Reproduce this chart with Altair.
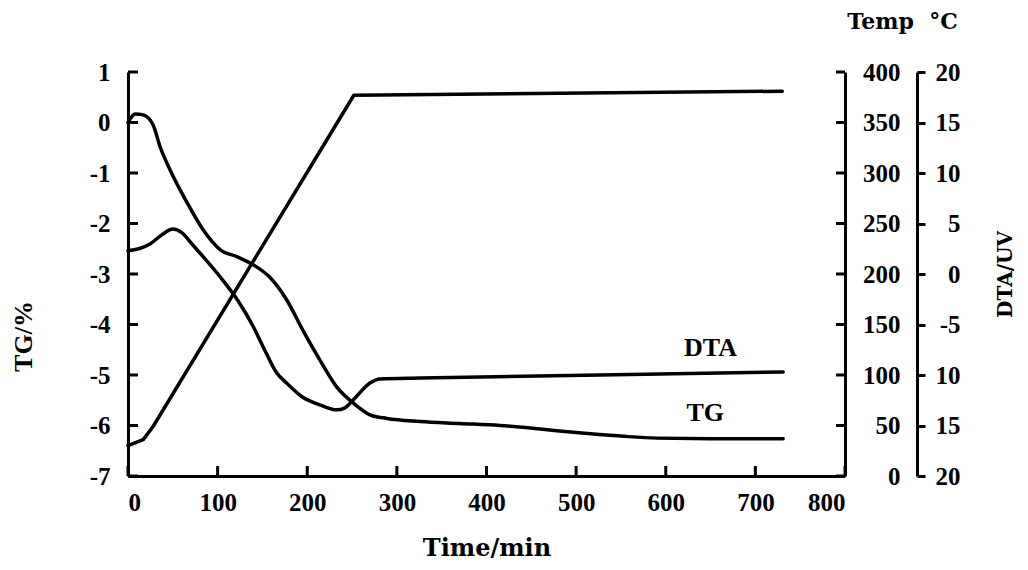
import altair as alt
import pandas as pd

# ---------------- data ----------------
tg_time = [0, 8, 17, 28, 36, 47, 66, 84, 103, 122, 140, 158, 177, 195, 214, 233,
           251, 270, 289, 326, 370, 415, 460, 500, 550, 590, 650, 731]
tg_val = [0.0, 0.17, 0.15, -0.05, -0.49, -0.94, -1.59, -2.13, -2.52, -2.66, -2.82,
          -3.06, -3.51, -4.11, -4.70, -5.24, -5.55, -5.79, -5.86, -5.92, -5.96,
          -6.0, -6.07, -6.14, -6.21, -6.25, -6.26, -6.26]

dta_time = [0, 12, 25, 38, 50, 60, 72, 84, 103, 122, 140, 151, 166, 177, 195, 214,
            233, 242, 251, 270, 281, 326, 527, 731]
dta_val = [2.3, 2.5, 3.0, 3.9, 4.45, 4.1, 2.9, 1.7, -0.3, -2.55, -5.25, -7.25, -9.8,
           -10.8, -12.2, -12.95, -13.45, -13.25, -12.5, -10.8, -10.4, -10.3, -10.0,
           -9.7]

temp_time = [0, 17, 28, 252, 730]
temp_val = [30, 36, 49, 377, 381]

time_ticks = [0, 100, 200, 300, 400, 500, 600, 700, 800]
tg_ticks = [-7, -6, -5, -4, -3, -2, -1, 0, 1]
temp_ticks = [0, 50, 100, 150, 200, 250, 300, 350, 400]
dta_ticks = [-20, -15, -10, -5, 0, 5, 10, 15, 20]

label_text = ["DTA", "TG"]
label_time = [650, 644]
label_tg = [-4.47, -5.75]

# ---------------- styling ----------------
W, H = 717, 404
NUM_FONT = "Liberation Serif, Times New Roman, DejaVu Serif, serif"
TITLE_FONT = "DejaVu Serif, serif"
NUM_SIZE = 25
LW = 3.5

tg_df = pd.DataFrame({"t": tg_time, "v": tg_val})
dta_df = pd.DataFrame({"t": dta_time, "v": dta_val})
temp_df = pd.DataFrame({"t": temp_time, "v": temp_val})
lab_df = pd.DataFrame({"t": label_time, "v": label_tg, "label": label_text})

x_scale = alt.Scale(domain=[0, 800], nice=False, zero=False)
x_axis = alt.Axis(
    values=time_ticks, ticks=False, tickSize=0, grid=False,
    labelPadding=14, labelFont=NUM_FONT, labelFontSize=NUM_SIZE,
    labelFontWeight="bold", labelColor="black", labelExpr="'' + datum.value",
    domainColor="black", domainWidth=3,
    title="Time/min", titleFont=TITLE_FONT, titleFontSize=24,
    titleFontWeight="bold", titleColor="black", titleBaseline="alphabetic",
    titleY=79,
)
x_enc = alt.X("t:Q", scale=x_scale, axis=x_axis)

tg_scale = alt.Scale(domain=[-7, 1], nice=False, zero=False)
tg_axis = alt.Axis(
    orient="left", values=tg_ticks, ticks=False, tickSize=0, grid=False,
    labelPadding=18, labelFont=NUM_FONT, labelFontSize=NUM_SIZE,
    labelFontWeight="bold", labelColor="black", labelExpr="'' + datum.value",
    domainColor="black", domainWidth=3,
    title="TG/%", titleFont=NUM_FONT, titleFontSize=26,
    titleFontWeight="bold", titleColor="black", titleAngle=270,
    titleX=-105, titleY=264, titleAlign="center", titleBaseline="middle",
)
tg_y = alt.Y("v:Q", scale=tg_scale, axis=tg_axis)

temp_scale = alt.Scale(domain=[0, 400], nice=False, zero=False)
temp_axis = alt.Axis(
    orient="right", values=temp_ticks, ticks=False, tickSize=0, grid=False,
    labelPadding=55, labelAlign="right", labelFont=NUM_FONT,
    labelFontSize=NUM_SIZE, labelFontWeight="bold", labelColor="black",
    labelExpr="'' + datum.value",
    domainColor="black", domainWidth=3,
    title="Temp\u00a0\u00a0°C", titleFont=TITLE_FONT, titleFontSize=22,
    titleFontWeight="bold", titleColor="black", titleAngle=0,
    titleX=57, titleY=-44, titleAlign="center", titleBaseline="alphabetic",
)
temp_y = alt.Y("v:Q", scale=temp_scale, axis=temp_axis)

dta_scale = alt.Scale(domain=[-20, 20], nice=False, zero=False)
dta_axis = alt.Axis(
    orient="right", offset=72, values=dta_ticks, ticks=True, tickSize=8,
    tickWidth=3, tickColor="black", grid=False,
    labelPadding=35, labelAlign="right", labelFont=NUM_FONT,
    labelFontSize=NUM_SIZE, labelFontWeight="bold", labelColor="black",
    labelExpr="datum.value == -5 ? '-5' : '' + abs(datum.value)",
    domainColor="black", domainWidth=3,
    title="DTA/UV", titleFont=TITLE_FONT, titleFontSize=20,
    titleFontWeight="bold", titleColor="black", titleAngle=270,
    titleX=88, titleY=202, titleAlign="center", titleBaseline="middle",
)
dta_y = alt.Y("v:Q", scale=dta_scale, axis=dta_axis)

line_style = dict(color="black", strokeWidth=LW, strokeCap="round", strokeJoin="round")

# ---------------- TG group (left axis) ----------------
tg_line = alt.Chart(tg_df).mark_line(interpolate="monotone", **line_style).encode(x=x_enc, y=tg_y)

left_ticks = alt.Chart(pd.DataFrame({"v": tg_ticks})).mark_rule(
    color="black", strokeWidth=3
).encode(y=tg_y, x=alt.value(0), x2=alt.value(10))

bottom_ticks = alt.Chart(pd.DataFrame({"t": time_ticks})).mark_rule(
    color="black", strokeWidth=3
).encode(x=x_enc, y=alt.value(H), y2=alt.value(H - 10))

labels = alt.Chart(lab_df).mark_text(
    font=NUM_FONT, fontSize=26, fontWeight="bold", color="black",
    align="center", baseline="middle"
).encode(x=x_enc, y=tg_y, text="label:N")

tg_group = alt.layer(tg_line, left_ticks, bottom_ticks, labels)

# ---------------- Temperature group (first right axis) ----------------
temp_line = alt.Chart(temp_df).mark_line(**line_style).encode(x=x_enc, y=temp_y)
temp_tick_marks = alt.Chart(pd.DataFrame({"v": temp_ticks})).mark_rule(
    color="black", strokeWidth=3
).encode(y=temp_y, x=alt.value(W - 9), x2=alt.value(W))
temp_group = alt.layer(temp_line, temp_tick_marks)

# ---------------- DTA group (second right axis) ----------------
dta_line = alt.Chart(dta_df).mark_line(interpolate="monotone", **line_style).encode(x=x_enc, y=dta_y)

chart = (
    alt.layer(tg_group, temp_group, dta_line)
    .resolve_scale(y="independent")
    .properties(
        width=W, height=H,
        autosize=alt.AutoSizeParams(type="none"),
        padding={"left": 120, "top": 64, "right": 175, "bottom": 88},
        background="white",
    )
    .configure_view(stroke=None)
)

chart.save("out.html", embed_options={"renderer": "svg", "actions": False})
